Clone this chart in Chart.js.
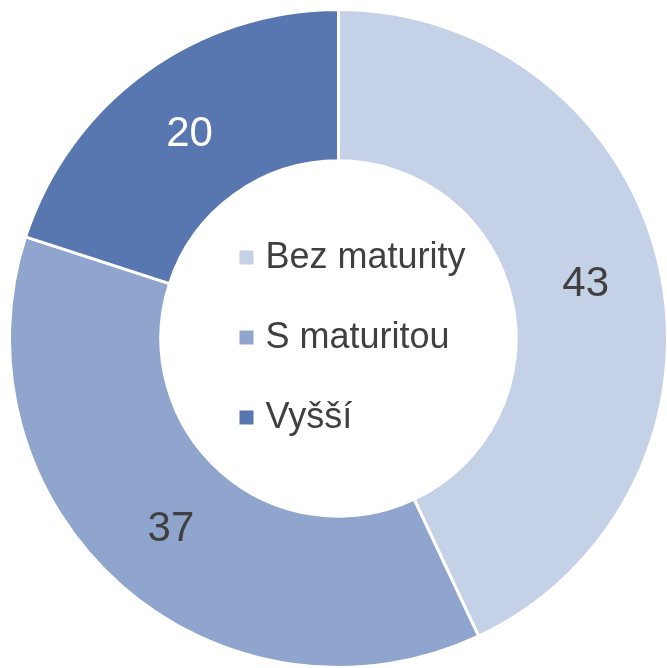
<!DOCTYPE html>
<html>
<head>
<meta charset="utf-8">
<script src="https://cdn.jsdelivr.net/npm/chart.js@4/dist/chart.umd.min.js"></script>
<style>
  html, body { margin: 0; padding: 0; background: #ffffff; overflow: hidden; }
  #wrap { position: relative; width: 670px; height: 670px; }
</style>
</head>
<body>
<div id="wrap"><canvas id="chart"></canvas></div>
<script>
const categories = ["Bez maturity", "S maturitou", "Vyšší"];
const values = [43, 37, 20];
const sliceColors = ["#c5d1e6", "#8fa5cd", "#5877b1"];
const labelColors = ["#404040", "#404040", "#ffffff"];

const FONT = "'Liberation Sans', Arial, sans-serif";

// value labels in the middle of each ring segment
const valueLabels = {
  id: "valueLabels",
  afterDatasetsDraw(chart) {
    const ctx = chart.ctx;
    const meta = chart.getDatasetMeta(0);
    ctx.save();
    ctx.font = "42px " + FONT;
    ctx.textAlign = "center";
    ctx.textBaseline = "middle";
    meta.data.forEach((arc, i) => {
      const pos = arc.tooltipPosition();
      ctx.fillStyle = labelColors[i];
      ctx.fillText(String(values[i]), pos.x, pos.y + 1);
    });
    ctx.restore();
  },
};

// legend drawn inside the hole
const centerLegend = {
  id: "centerLegend",
  afterDraw(chart) {
    const ctx = chart.ctx;
    const meta = chart.getDatasetMeta(0);
    const arc = meta.data[0];
    const cx = arc.x;
    const cy = arc.y;
    const rowGap = 80;
    ctx.save();
    ctx.font = "36px " + FONT;
    ctx.textBaseline = "middle";
    ctx.textAlign = "left";
    categories.forEach((name, i) => {
      const y = cy - rowGap + i * rowGap;
      ctx.fillStyle = sliceColors[i];
      ctx.fillRect(cx - 99, y - 8, 14, 14);
      ctx.fillStyle = "#404040";
      ctx.fillText(name, cx - 73, y);
    });
    ctx.restore();
  },
};

new Chart(document.getElementById("chart"), {
  type: "doughnut",
  data: {
    labels: categories,
    datasets: [
      {
        data: values,
        backgroundColor: sliceColors,
        borderColor: "#ffffff",
        borderWidth: 3,
      },
    ],
  },
  options: {
    responsive: true,
    maintainAspectRatio: false,
    animation: false,
    cutout: "54%",
    layout: { padding: { left: 8, top: 8, right: 1, bottom: 1 } },
    plugins: {
      legend: { display: false },
      tooltip: { enabled: false },
    },
  },
  plugins: [valueLabels, centerLegend],
});
</script>
</body>
</html>
